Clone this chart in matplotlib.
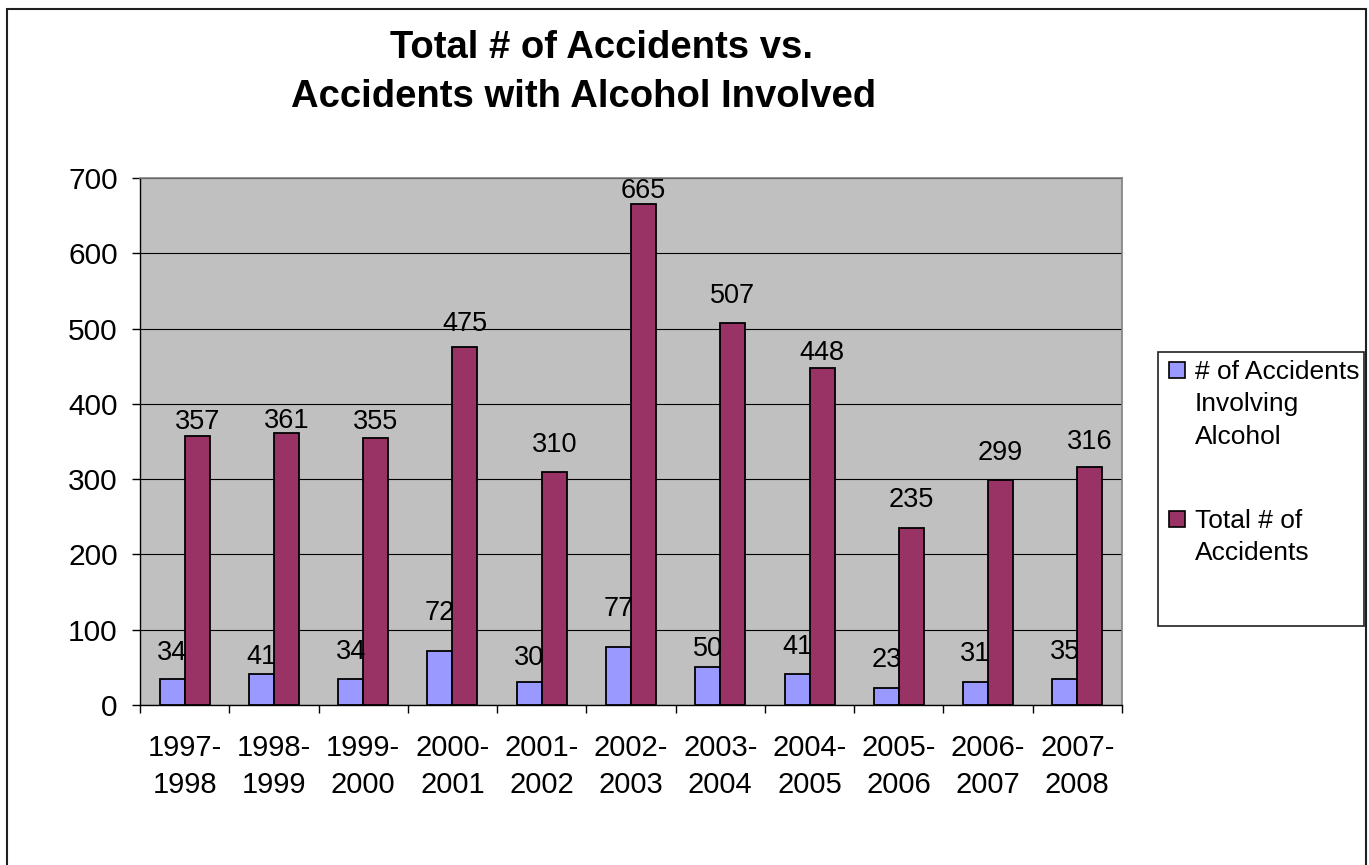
import matplotlib.pyplot as plt
import numpy as np
from matplotlib.patches import Rectangle

plt.rcParams['font.family'] = ['Liberation Sans', 'DejaVu Sans']

seasons = ['1997-\n1998', '1998-\n1999', '1999-\n2000', '2000-\n2001', '2001-\n2002',
           '2002-\n2003', '2003-\n2004', '2004-\n2005', '2005-\n2006', '2006-\n2007',
           '2007-\n2008']
alcohol = [34, 41, 34, 72, 30, 77, 50, 41, 23, 31, 35]
total = [357, 361, 355, 475, 310, 665, 507, 448, 235, 299, 316]

# where the value labels sit (data units, label centre)
alcohol_label_y = [69, 64, 70, 122, 62, 128, 74, 77, 60, 68, 70]
total_label_y = [376, 377, 376, 506, 345, 683, 543, 468, 272, 335, 349]

series_names = ['# of Accidents\nInvolving\nAlcohol', 'Total # of\nAccidents']
colors = ['#9999FF', '#993366']

W, H = 1369, 865
fig = plt.figure(figsize=(W / 100, H / 100), dpi=100)


def fx(x):
    return x / W


def fy(y):
    return 1 - y / H


# outer chart border
fig.patches.append(Rectangle((fx(7), fy(880)), fx(1366) - fx(7), fy(9) - fy(880),
                             transform=fig.transFigure, fill=False,
                             edgecolor='#202020', linewidth=1.5, zorder=0))

ax = fig.add_axes([fx(140), fy(705), fx(1122) - fx(140), fy(178) - fy(705)])
ax.set_facecolor('#C0C0C0')

x = np.arange(len(seasons))
bw = 0.28
ax.bar(x - bw / 2, alcohol, width=bw, color=colors[0], edgecolor='black',
       linewidth=1.3, zorder=3)
ax.bar(x + bw / 2, total, width=bw, color=colors[1], edgecolor='black',
       linewidth=1.3, zorder=3)

for i in range(len(seasons)):
    ax.text(x[i] - bw / 2, alcohol_label_y[i], str(alcohol[i]), ha='center',
            va='center', fontsize=19.5, zorder=4)
    ax.text(x[i] + bw / 2, total_label_y[i], str(total[i]), ha='center',
            va='center', fontsize=19.5, zorder=4)

ax.set_xlim(-0.5, len(seasons) - 0.5)
ax.set_ylim(0, 700)
ax.set_yticks(np.arange(0, 701, 100))
ax.yaxis.grid(True, color='black', linewidth=0.8, zorder=1)
ax.set_axisbelow(True)

ax.set_xticks(x)
ax.set_xticklabels(seasons, fontsize=21, linespacing=1.42)
ax.set_xticks(np.arange(-0.5, len(seasons), 1), minor=True)
ax.tick_params(axis='x', which='major', length=0, pad=21)
ax.tick_params(axis='x', which='minor', length=6, width=1, direction='out')
ax.tick_params(axis='y', length=6, width=1, direction='out', pad=10, labelsize=21.5)

for side in ['top', 'right']:
    ax.spines[side].set_color('#808080')
    ax.spines[side].set_linewidth(1.2)
for side in ['left', 'bottom']:
    ax.spines[side].set_color('black')
    ax.spines[side].set_linewidth(1)

# title
fig.text(fx(601), fy(58), 'Total # of Accidents vs.', ha='center', va='baseline',
         fontsize=27.5, fontweight='bold')
fig.text(fx(584), fy(107), 'Accidents with Alcohol Involved', ha='center',
         va='baseline', fontsize=27.5, fontweight='bold')

# legend
fig.patches.append(Rectangle((fx(1158), fy(626)), fx(1364) - fx(1158), fy(352) - fy(626),
                             transform=fig.transFigure, fill=False,
                             edgecolor='#202020', linewidth=1.2))
entry_tops = [362, 511]
for name, col, top in zip(series_names, colors, entry_tops):
    fig.patches.append(Rectangle((fx(1169), fy(top + 16)), fx(16), 16 / H,
                                 transform=fig.transFigure, facecolor=col,
                                 edgecolor='black', linewidth=1.2))
    for k, line in enumerate(name.split('\n')):
        fig.text(fx(1195), fy(top + 17 + 32.5 * k), line, ha='left',
                 va='baseline', fontsize=19)

fig.savefig('out.png', dpi=100)
